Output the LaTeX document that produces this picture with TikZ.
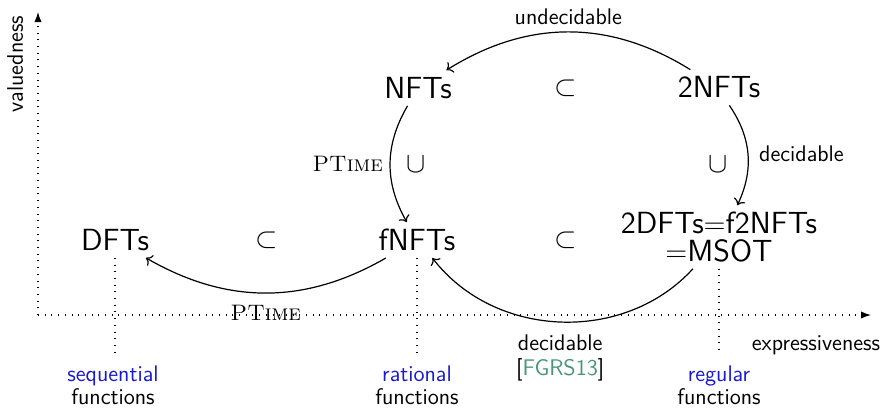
\documentclass[tikz,border=0pt]{standalone}
\usetikzlibrary{arrows.meta}
\definecolor{fnblue}{RGB}{25,25,205}
\definecolor{citegreen}{RGB}{72,150,120}
\begin{document}
\begin{tikzpicture}[x=0.5pt,y=0.5pt,
  cls/.style={font=\fontsize{15.3}{13.6}\selectfont\sffamily, align=center},
  rel/.style={font=\fontsize{14.8}{13}\selectfont},
  lbl/.style={font=\fontsize{11.3}{12.5}\selectfont\sffamily, align=center},
  cplx/.style={font=\fontsize{11.2}{12}\selectfont\rmfamily\scshape},
  fam/.style={font=\fontsize{11.3}{11.5}\selectfont\sffamily, align=center, anchor=north},
  axisline/.style={dash pattern=on 0.5pt off 2.85pt, line width=0.55pt, -{Latex[length=5pt,width=3.6pt]}},
  guide/.style={dash pattern=on 0.5pt off 2.85pt, line width=0.55pt},
  trans/.style={->, line width=0.6pt},
]
\useasboundingbox (0,0) rectangle (885,-409);

% axes
\coordinate (origin) at (38,-315);
\coordinate (ytop) at (38,-12);
\coordinate (xend) at (871,-315);
\draw[axisline] (origin) -- (ytop);
\draw[axisline] (origin) -- (xend);
\node[lbl, rotate=90, anchor=base] (vlab) at (23,-64) {valuedness};
\node[lbl, anchor=base] (elab) at (816,-350) {expressiveness};

% transducer classes
\node[cls] (nfts)  at (418,-88)  {NFTs};
\node[cls] (tnfts) at (719,-87.5) {2NFTs};
\node[cls] (dfts)  at (115,-240) {DFTs};
\node[cls] (fnfts) at (417,-240) {fNFTs};
\node[cls] (tdfts) at (719,-237) {2DFTs$=$f2NFTs\\$=$MSOT};

% inclusions
\node[rel] (s1) at (566,-88)  {$\subset$};
\node[rel] (s2) at (267,-240) {$\subset$};
\node[rel] (s3) at (566,-240) {$\subset$};
\node[rel] (u1) at (416.5,-164) {$\cup$};
\node[rel] (u2) at (718,-164) {$\cup$};

% equivalence problems
\draw[trans] (tnfts) to[bend right=32] node[lbl, above] (q1) {undecidable} (nfts);
\draw[trans] (nfts) to[bend right=30] node[cplx, left] (q2) {PTime} (fnfts);
\draw[trans] (tnfts) to[bend left=30] node[lbl, right=2pt] (q3) {decidable} (tdfts);
\draw[trans] (fnfts) to[bend left=30] node[cplx, below=2.5pt] (q4) {PTime} (dfts);
\draw[trans] (tdfts) to[bend left=50] node[lbl, below=3pt] (q5) {decidable\\{}[{\color{citegreen}FGRS13}]} (fnfts);

% function classes
\coordinate (g1) at (115,-355);
\coordinate (g2) at (417,-355);
\coordinate (g3) at (719,-355);
\draw[guide] (dfts.south) -- (g1);
\draw[guide] (fnfts.south) -- (g2);
\draw[guide] (tdfts.south) -- (g3);
\node[fam] (f1) at (113,-359) {\textcolor{fnblue}{sequential}\\functions};
\node[fam] (f2) at (417,-359) {\textcolor{fnblue}{rational}\\functions};
\node[fam] (f3) at (719,-359) {\textcolor{fnblue}{regular}\\functions};
\end{tikzpicture}
\end{document}
